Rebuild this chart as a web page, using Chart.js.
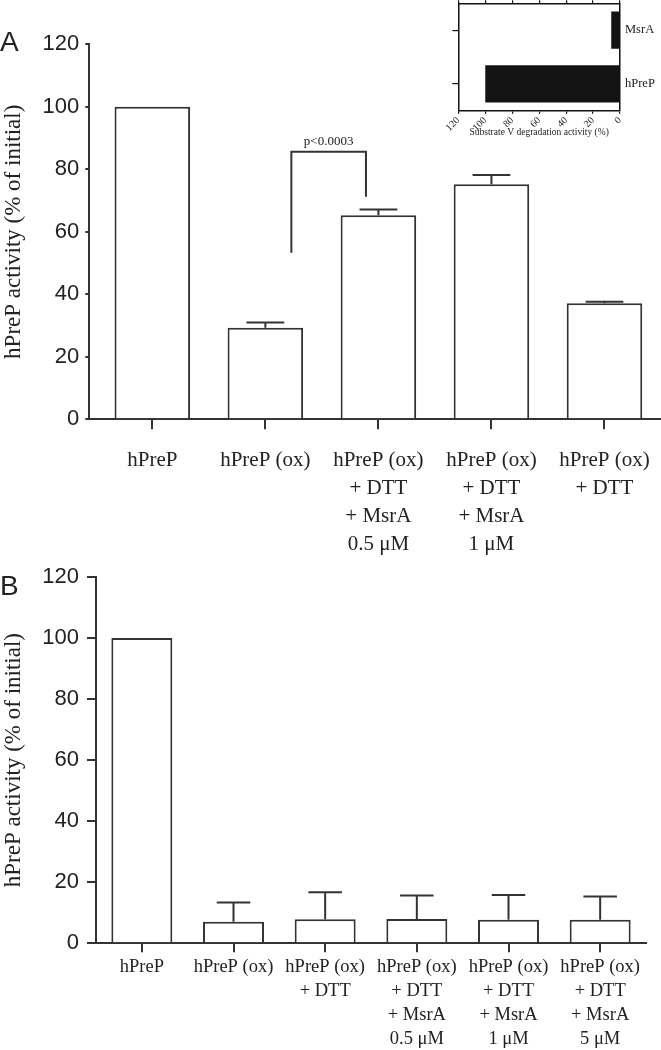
<!DOCTYPE html>
<html>
<head>
<meta charset="utf-8">
<script src="https://cdn.jsdelivr.net/npm/chart.js@4.4.1/dist/chart.umd.min.js"></script>
<style>
  html, body { margin: 0; padding: 0; background: #fff; }
  #wrap { position: relative; width: 661px; height: 1050px; overflow: hidden; }
  canvas { position: absolute; }
  .panel { position: absolute; font-family: "Liberation Sans", Arial, sans-serif; font-size: 28px; line-height: 28px; color: #222; }
</style>
</head>
<body>
<div id="wrap">
  <canvas id="chartA" width="661" height="560" style="left:0;top:0"></canvas>
  <canvas id="chartB" width="661" height="490" style="left:0;top:560px"></canvas>
  <canvas id="inset" width="221" height="140" style="left:440px;top:0"></canvas>
  <div class="panel" style="left:0;top:28px">A</div>
  <div class="panel" style="left:0;top:572px">B</div>
</div>
<script>
// Panel A data
const labelsA = [
  ["hPreP"],
  ["hPreP (ox)"],
  ["hPreP (ox)", "+ DTT", "+ MsrA", "0.5 μM"],
  ["hPreP (ox)", "+ DTT", "+ MsrA", "1 μM"],
  ["hPreP (ox)", "+ DTT"],
];
const valuesA = [100, 29.3, 65.3, 75.2, 37.1];
const errorsA = [0, 1.7, 1.8, 3.0, 0.5];

// Panel B data
const labelsB = [
  ["hPreP"],
  ["hPreP (ox)"],
  ["hPreP (ox)", "+ DTT"],
  ["hPreP (ox)", "+ DTT", "+ MsrA", "0.5 μM"],
  ["hPreP (ox)", "+ DTT", "+ MsrA", "1 μM"],
  ["hPreP (ox)", "+ DTT", "+ MsrA", "5 μM"],
];
const valuesB = [100, 7.1, 7.9, 8.0, 7.7, 7.7];
const errorsB = [0, 6.3, 8.8, 7.7, 8.1, 7.6];

const yTicks = [0, 20, 40, 60, 80, 100, 120];
const yTitle = "hPreP activity (% of initial)";

// significance bracket between bar 2 and bar 3 of panel A
const bracketA = { from: 1.23, to: 1.89, leftEnd: 53.3, rightEnd: 71.2, top: 85.6, text: "p<0.0003" };

// Inset data
const insetLabels = ["MsrA", "hPreP"];
const insetValues = [6.5, 100];
const insetTicks = [0, 20, 40, 60, 80, 100, 120];
const insetTitle = "Substrate V degradation activity (%)";

const SERIF = '"Liberation Serif", "Times New Roman", serif';
const SANS = '"Liberation Sans", Arial, sans-serif';
const LINE = "#333";
const TEXT = "#222";

// force a scale box to a fixed size and drop its label overflow padding
const fixBox = (size) => (s) => {
  if (s.isHorizontal()) s.height = size;
  else s.width = size;
  s.paddingTop = s.paddingBottom = s.paddingLeft = s.paddingRight = 0;
};

const makeErrorBars = (values, errors, cap) => ({
  id: "errorBars",
  afterDatasetsDraw(chart) {
    const { ctx } = chart;
    const y = chart.scales.y;
    const meta = chart.getDatasetMeta(0);
    ctx.save();
    ctx.strokeStyle = LINE;
    ctx.lineWidth = 2;
    errors.forEach((e, i) => {
      if (!e) return;
      const bar = meta.data[i];
      const top = y.getPixelForValue(values[i] + e);
      const half = (bar.width * cap) / 2;
      ctx.beginPath();
      ctx.moveTo(bar.x, bar.y);
      ctx.lineTo(bar.x, top);
      ctx.moveTo(bar.x - half, top);
      ctx.lineTo(bar.x + half, top);
      ctx.stroke();
    });
    ctx.restore();
  },
});

const bracketPlugin = {
  id: "bracket",
  afterDatasetsDraw(chart) {
    const { ctx } = chart;
    const { x, y } = chart.scales;
    const x1 = x.getPixelForValue(bracketA.from);
    const x2 = x.getPixelForValue(bracketA.to);
    const yTop = y.getPixelForValue(bracketA.top);
    ctx.save();
    ctx.strokeStyle = LINE;
    ctx.lineWidth = 2;
    ctx.beginPath();
    ctx.moveTo(x1, y.getPixelForValue(bracketA.leftEnd));
    ctx.lineTo(x1, yTop);
    ctx.lineTo(x2, yTop);
    ctx.lineTo(x2, y.getPixelForValue(bracketA.rightEnd));
    ctx.stroke();
    ctx.fillStyle = TEXT;
    ctx.font = "13px " + SERIF;
    ctx.textAlign = "center";
    ctx.textBaseline = "alphabetic";
    ctx.fillText(bracketA.text, (x1 + x2) / 2, yTop - 7);
    ctx.restore();
  },
};

const createPanel = (id, cfg) => {
  const ctx = document.getElementById(id).getContext("2d");
  return new Chart(ctx, {
    type: "bar",
    data: {
      datasets: [
        {
          data: cfg.values.map((v, i) => ({ x: i, y: v })),
          backgroundColor: "#fff",
          borderColor: LINE,
          borderWidth: 2,
          categoryPercentage: 1,
          barPercentage: cfg.barPct,
        },
      ],
    },
    options: {
      responsive: false,
      animation: false,
      layout: { padding: cfg.padding },
      plugins: { legend: { display: false }, tooltip: { enabled: false } },
      scales: {
        x: {
          type: "linear",
          bounds: "data",
          offset: false,
          min: cfg.xMin,
          max: cfg.xMax,
          afterBuildTicks: (s) => {
            s.ticks = cfg.labels.map((_, i) => ({ value: i }));
          },
          afterFit: fixBox(cfg.xHeight),
          ticks: {
            autoSkip: false,
            minRotation: 0,
            maxRotation: 0,
            padding: cfg.labelPad,
            color: TEXT,
            font: { family: SERIF, size: cfg.labelSize, lineHeight: cfg.labelLine },
            callback: (v) => cfg.labels[v],
          },
          grid: { offset: false, drawOnChartArea: false, tickLength: cfg.xTick, color: LINE, lineWidth: 2 },
          border: { color: LINE, width: 2 },
        },
        y: {
          min: 0,
          max: 120,
          afterBuildTicks: (s) => {
            s.ticks = yTicks.map((v) => ({ value: v }));
          },
          afterFit: fixBox(cfg.yWidth),
          ticks: {
            padding: cfg.yPad,
            color: TEXT,
            font: { family: SANS, size: 22 },
          },
          title: {
            display: true,
            text: yTitle,
            color: TEXT,
            font: { family: SERIF, size: 23 },
            padding: 0,
          },
          grid: { drawOnChartArea: false, tickLength: cfg.yTick, color: LINE, lineWidth: 2 },
          border: { color: LINE, width: 2 },
        },
      },
    },
    plugins: cfg.plugins,
  });
};

createPanel("chartA", {
  labels: labelsA,
  values: valuesA,
  barPct: 0.668,
  padding: { top: 44.3, right: 0, bottom: 0, left: 0 },
  xMin: -0.5575,
  xMax: 4.5,
  xHeight: 140.7,
  yWidth: 89.3,
  labelPad: 17,
  labelSize: 21,
  labelLine: 1.333,
  xTick: 10,
  yTick: 4,
  yPad: 6,
  plugins: [makeErrorBars(valuesA, errorsA, 0.5), bracketPlugin],
});

createPanel("chartB", {
  labels: labelsB,
  values: valuesB,
  barPct: 0.665,
  padding: { top: 17, right: 15, bottom: 0, left: 0 },
  xMin: -0.5,
  xMax: 5.5,
  xHeight: 106.7,
  yWidth: 96,
  labelPad: 3,
  labelSize: 18.5,
  labelLine: 1.3,
  xTick: 9,
  yTick: 9,
  yPad: 8,
  plugins: [makeErrorBars(valuesB, errorsB, 0.55)],
});

// Inset: horizontal bars, reversed value axis
const insetGrid = { drawOnChartArea: false, color: "#111", lineWidth: 1.2 };
const insetBorder = { color: "#111", width: 1.5 };
new Chart(document.getElementById("inset").getContext("2d"), {
  type: "bar",
  data: {
    labels: insetLabels,
    datasets: [
      {
        data: insetValues,
        backgroundColor: "#141414",
        borderWidth: 0,
        categoryPercentage: 1,
        barPercentage: 0.69,
      },
    ],
  },
  options: {
    indexAxis: "y",
    responsive: false,
    animation: false,
    layout: { padding: 0 },
    plugins: { legend: { display: false }, tooltip: { enabled: false } },
    scales: {
      x: {
        type: "linear",
        position: "bottom",
        reverse: true,
        bounds: "data",
        min: 0,
        max: 120,
        afterBuildTicks: (s) => {
          s.ticks = insetTicks.map((v) => ({ value: v }));
        },
        afterFit: fixBox(29.3),
        ticks: {
          autoSkip: false,
          minRotation: 45,
          maxRotation: 45,
          padding: 1,
          color: TEXT,
          font: { family: SERIF, size: 10 },
        },
        title: {
          display: true,
          text: insetTitle,
          color: TEXT,
          font: { family: SERIF, size: 9.5 },
          padding: { top: 0, bottom: 2 },
        },
        grid: { ...insetGrid, tickLength: 3 },
        border: insetBorder,
      },
      xTop: {
        type: "linear",
        position: "top",
        reverse: true,
        bounds: "data",
        min: 0,
        max: 120,
        afterBuildTicks: (s) => {
          s.ticks = insetTicks.map((v) => ({ value: v }));
        },
        afterFit: fixBox(3.3),
        ticks: { display: false },
        grid: { ...insetGrid, tickLength: 3 },
        border: insetBorder,
      },
      y: {
        position: "left",
        afterFit: fixBox(18.3),
        ticks: { display: false },
        grid: { ...insetGrid, offset: false, tickLength: 6 },
        border: insetBorder,
      },
      yRight: {
        type: "category",
        position: "right",
        labels: insetLabels,
        offset: true,
        afterFit: fixBox(41),
        ticks: { padding: 5, color: TEXT, font: { family: SERIF, size: 12.5 } },
        grid: { display: false, drawTicks: false },
        border: { ...insetBorder, display: true },
      },
    },
  },
});
</script>
</body>
</html>
